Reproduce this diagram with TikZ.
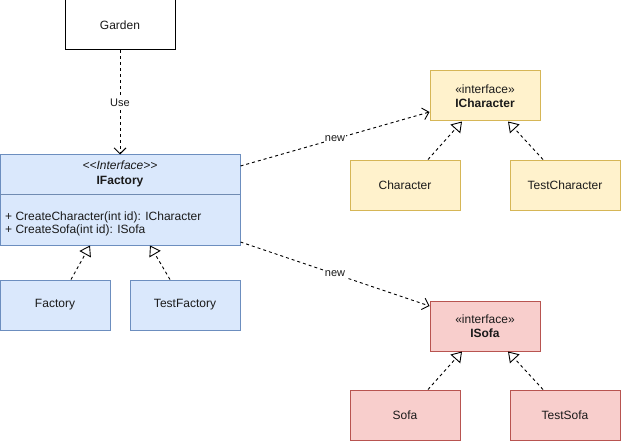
\documentclass[tikz,border=0pt]{standalone}
\usepackage{fontspec}
\setmainfont{Liberation Sans}
\usetikzlibrary{arrows.meta}
\definecolor{bfill}{HTML}{DAE8FC}\definecolor{bline}{HTML}{6C8EBF}
\definecolor{yfill}{HTML}{FFF2CC}\definecolor{yline}{HTML}{D6B656}
\definecolor{rfill}{HTML}{F8CECC}\definecolor{rline}{HTML}{B85450}
\definecolor{txt}{HTML}{1A1A1A}
\begin{document}
\begin{tikzpicture}[x=1pt,y=-1pt,
  box/.style={draw,rectangle,line width=1pt,minimum width=110pt,minimum height=50pt,inner sep=0pt,align=center,font=\fontsize{12pt}{14pt}\selectfont,text=txt},
  bluebox/.style={box,fill=bfill,draw=bline},
  yelbox/.style={box,fill=yfill,draw=yline},
  redbox/.style={box,fill=rfill,draw=rline},
  dep/.style={line width=0.9pt,dash pattern=on 3pt off 3pt,-{Straight Barb[length=6pt,width=12pt,line width=0.9pt]}},
  real/.style={line width=0.9pt,dash pattern=on 3pt off 3pt,-{Triangle[open,length=10pt,width=13pt,fill=white,line width=0.9pt]}},
  lbl/.style={fill=white,inner sep=1pt,font=\fontsize{11pt}{13pt}\selectfont,text=txt}]
\useasboundingbox (0,0) rectangle (621,441);
\node[box,fill=white,draw=black] (garden) at (120,25) {Garden};
\node[bluebox,minimum width=240pt,minimum height=90pt] (ifactory) at (120,200) {};
\draw[bline!80!gray,line width=1pt] (0,194) -- (240,194);
\node[font=\fontsize{12pt}{14pt}\selectfont,text=txt] (ifst) at (120,165) {\itshape {<}{<}Interface{>}{>}};
\node[font=\fontsize{12pt}{14pt}\selectfont\bfseries,text=txt] (ifname) at (120,182) {IFactory};
\node[anchor=west,font=\fontsize{12pt}{13pt}\selectfont,text=txt,align=left,inner sep=0pt] (ifops) at (5,223.5) {+ CreateCharacter(int id): ICharacter\\+ CreateSofa(int id): ISofa};
\node[bluebox] (factory) at (55,305) {Factory};
\node[bluebox] (testfactory) at (185,305) {TestFactory};
\node[yelbox] (icharacter) at (485,96) {«interface»\\\textbf{ICharacter}};
\node[yelbox] (character) at (405,185) {Character};
\node[yelbox] (testcharacter) at (565,185) {TestCharacter};
\node[redbox] (isofa) at (485,326) {«interface»\\\textbf{ISofa}};
\node[redbox] (sofa) at (405,415) {Sofa};
\node[redbox] (testsofa) at (565,415) {TestSofa};
\draw[dep] (garden.south) -- node[lbl] {Use} (ifactory.north);
\draw[dep] ([yshift=34pt]ifactory.east) -- node[lbl] {new} ([yshift=-16pt]icharacter.west);
\draw[dep] ([yshift=-42pt]ifactory.east) -- node[lbl] {new} ([yshift=20pt]isofa.west);
\draw[real] ([xshift=16pt]factory.north) -- ([xshift=-30pt]ifactory.south);
\draw[real] ([xshift=-15pt]testfactory.north) -- ([xshift=30pt]ifactory.south);
\draw[real] ([xshift=23pt]character.north) -- ([xshift=-23pt]icharacter.south);
\draw[real] ([xshift=-22pt]testcharacter.north) -- ([xshift=23pt]icharacter.south);
\draw[real] ([xshift=23pt]sofa.north) -- ([xshift=-23pt]isofa.south);
\draw[real] ([xshift=-22pt]testsofa.north) -- ([xshift=23pt]isofa.south);
\end{tikzpicture}
\end{document}
